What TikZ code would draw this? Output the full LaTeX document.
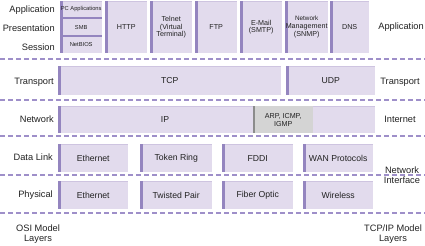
\documentclass[tikz,border=0pt]{standalone}
\usepackage{fontspec}
\setmainfont{Liberation Sans}
\usetikzlibrary{positioning}
\definecolor{layerfill}{HTML}{E2DBED}
\definecolor{layeredge}{HTML}{9485BF}
\definecolor{layertop}{HTML}{CEC4E0}
\definecolor{sepline}{HTML}{9E8FC9}
\definecolor{grayfill}{HTML}{D4D4D4}
\definecolor{grayedge}{HTML}{8C8C8C}
\definecolor{labeltext}{HTML}{222222}

\begin{document}
\begin{tikzpicture}[x=1bp, y=-1bp,
    proto/.style={anchor=north west, fill=layerfill, inner sep=0.5bp, align=center, text=labeltext,
        font=\fontsize{8.7}{9.5}\selectfont,
        path picture={
            \draw[layertop, line width=1.2bp] (path picture bounding box.north west) -- (path picture bounding box.north east);
            \fill[layeredge] (path picture bounding box.north west) rectangle ([xshift=2.5bp]path picture bounding box.south west);
        }},
    greyproto/.style={proto, fill=grayfill,
        path picture={
            \fill[grayedge] (path picture bounding box.north west) rectangle ([xshift=2bp]path picture bounding box.south west);
        }},
    small/.style={font=\fontsize{7.2}{7.8}\selectfont},
    tiny/.style={font=\fontsize{5.8}{6.2}\selectfont},
    osi/.style={anchor=east, inner sep=1bp, text=labeltext, font=\fontsize{9.3}{10}\selectfont},
    tcpip/.style={align=center, inner sep=1bp, text=labeltext, font=\fontsize{9.3}{9.5}\selectfont},
    sep/.style={sepline, line width=1.1bp, dash pattern=on 5bp off 3bp},
]
\useasboundingbox (0,0) rectangle (425,246);

% application / presentation / session
\node[proto, tiny, minimum width=42bp, minimum height=16.5bp] (pcapp) at (60,1) {PC Applications};
\node[proto, tiny, minimum width=42bp, minimum height=17bp] (smb) at (60,18.5) {SMB};
\node[proto, tiny, minimum width=42bp, minimum height=16.5bp] (netbios) at (60,36.5) {NetBIOS};
\draw[layeredge, line width=1.3bp] (pcapp.south west) -- (pcapp.south east);
\draw[layeredge, line width=1.3bp] (smb.south west) -- (smb.south east);

\node[proto, small, minimum width=42bp, minimum height=52bp] (http) at (105,1) {HTTP};
\node[proto, small, minimum width=42bp, minimum height=52bp] (telnet) at (150,1) {Telnet\\(Virtual\\Terminal)};
\node[proto, small, minimum width=42bp, minimum height=52bp] (ftp) at (195,1) {FTP};
\node[proto, small, minimum width=42bp, minimum height=52bp] (email) at (240,1) {E-Mail\\(SMTP)};
\node[proto, small, minimum width=43bp, minimum height=52bp] (snmp) at (285,1)
    {\fontsize{6.4}{6.9}\selectfont Network\\Management\\(SNMP)};
\node[proto, small, minimum width=39bp, minimum height=52bp] (dns) at (330,1) {DNS};

% transport
\node[proto, minimum width=223bp, minimum height=29bp] (tcp) at (58,66) {TCP};
\node[proto, minimum width=89bp, minimum height=29bp] (udp) at (286,66) {UDP};

% network
\node[proto, minimum width=317bp, minimum height=27bp] (ip) at (58,106) {};
\node[text=labeltext, font=\fontsize{8.7}{9.5}\selectfont] (iptext) at (165,119.5) {IP};
\node[greyproto, small, minimum width=60bp, minimum height=27bp] (arp) at (253,106) {ARP, ICMP,\\IGMP};

% data link
\node[proto, minimum width=70bp, minimum height=28bp] (eth) at (58,144) {Ethernet};
\node[proto, minimum width=72bp, minimum height=28bp] (token) at (140,144) {Token Ring};
\node[proto, minimum width=71bp, minimum height=28bp] (fddi) at (222,144) {FDDI};
\node[proto, minimum width=70bp, minimum height=28bp] (wan) at (303,144) {WAN Protocols};

% physical
\node[proto, minimum width=70bp, minimum height=28bp] (ethphy) at (58,181) {Ethernet};
\node[proto, minimum width=72bp, minimum height=28bp] (twisted) at (140,181) {Twisted Pair};
\node[proto, minimum width=71bp, minimum height=28bp] (fiber) at (222,181) {Fiber Optic};
\node[proto, minimum width=70bp, minimum height=28bp] (wireless) at (303,181) {Wireless};

% layer separators
\foreach \y in {59,100,136,175,213}
    \draw[sep] (0,\y) -- (425,\y);

% OSI names
\node[osi] (application) at (56,10) {Application};
\node[osi] (presentation) at (56,28) {Presentation};
\node[osi] (session) at (56,47) {Session};
\node[osi] (transport) at (55,82) {Transport};
\node[osi] (network) at (55,119) {Network};
\node[osi] (datalink) at (54,157) {Data Link};
\node[osi] (physical) at (54,195) {Physical};
\node[tcpip] (osimodel) at (38,234) {OSI Model\\Layers};

% TCP/IP names
\node[tcpip] (tapplication) at (401,27) {Application};
\node[tcpip] (ttransport) at (400,82) {Transport};
\node[tcpip] (internet) at (400,119) {Internet};
\node[tcpip] (netif) at (402,175) {Network\\Interface};
\node[tcpip] (tcpipmodel) at (393,234) {TCP/IP Model\\Layers};
\end{tikzpicture}
\end{document}
